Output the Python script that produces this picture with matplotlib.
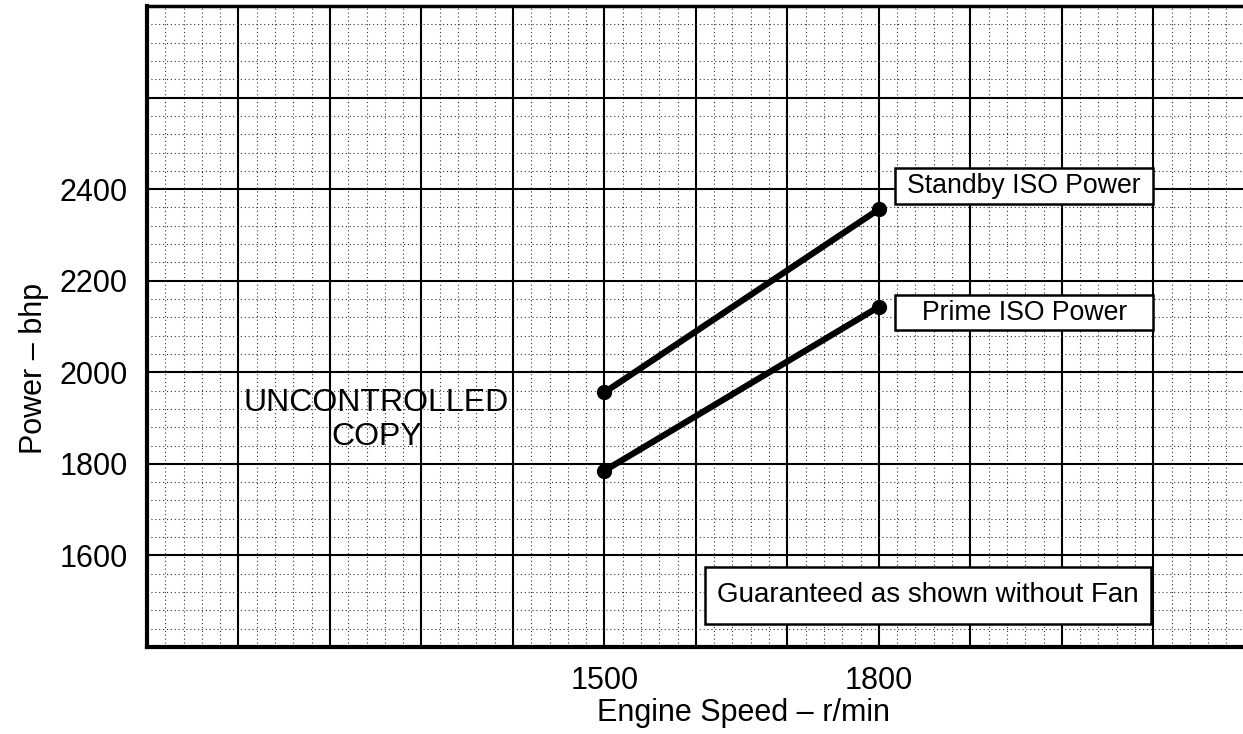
import numpy as np
import matplotlib
matplotlib.use('Agg')
import matplotlib.pyplot as plt
from matplotlib.ticker import MultipleLocator, FuncFormatter
from matplotlib.patches import Rectangle

plt.rcParams['font.family'] = ['Liberation Sans', 'DejaVu Sans']

# data
speed = [1500, 1800]
standby_power = [1956, 2356]
prime_power = [1785, 2143]
x_tick_labels = [1500, 1800]
y_tick_labels = [1600, 1800, 2000, 2200, 2400]

fig = plt.figure(figsize=(12.43, 7.34), dpi=100)
ax = fig.add_axes([0.11826, 0.11853, 0.8817, 0.8733])
ax.set_xlim(1000, 2198)
ax.set_ylim(1400, 2800)

# graph paper grid
ax.xaxis.set_major_locator(MultipleLocator(100))
ax.xaxis.set_minor_locator(MultipleLocator(20))
ax.yaxis.set_major_locator(MultipleLocator(200))
ax.yaxis.set_minor_locator(MultipleLocator(40))
ax.grid(which='major', color='black', lw=1.5, ls='-')
ax.grid(which='minor', color='#333333', lw=0.8, ls=(0, (1, 2.5)))
ax.set_axisbelow(True)

ax.xaxis.set_major_formatter(FuncFormatter(lambda v, p: str(int(v)) if int(round(v)) in x_tick_labels else ''))
ax.yaxis.set_major_formatter(FuncFormatter(lambda v, p: str(int(v)) if int(round(v)) in y_tick_labels else ''))
ax.tick_params(which='both', length=0)
ax.tick_params(axis='x', pad=13.5, labelsize=22)
ax.tick_params(axis='y', pad=14, labelsize=22)

for s in ['left', 'bottom']:
    ax.spines[s].set_linewidth(3)
ax.spines['top'].set_linewidth(2.5)
ax.spines['right'].set_visible(False)

ax.set_xlabel('Engine Speed \u2013 r/min', fontsize=22)
ax.set_ylabel('Power \u2013 bhp', fontsize=22)
ax.xaxis.set_label_coords(0.544, -0.079)
ax.yaxis.set_label_coords(-0.0894, 0.435)

ax.plot(speed, standby_power, color='black', lw=4.5, marker='o', ms=10, zorder=5)
ax.plot(speed, prime_power, color='black', lw=4.5, marker='o', ms=10, zorder=5)

# label boxes
boxes = [
    ((1818, 2367), 282, 79, 'Standby ISO Power', 19.2),
    ((1818, 2092), 282, 77, 'Prime ISO Power', 19.2),
    ((1610, 1450), 488, 125, 'Guaranteed as shown without Fan', 20),
]
for (bx, by), bw, bh, txt, fs in boxes:
    ax.add_patch(Rectangle((bx, by), bw, bh, facecolor='white', edgecolor='black', lw=1.8, zorder=6))
    ax.text(bx + bw / 2, by + bh / 2, txt, ha='center', va='center', fontsize=fs, zorder=7)

ax.text(1250, 1933, 'UNCONTROLLED', ha='center', va='center', fontsize=23, zorder=4)
ax.text(1251, 1859, 'COPY', ha='center', va='center', fontsize=23, zorder=4)

fig.savefig('out.png', dpi=100)
